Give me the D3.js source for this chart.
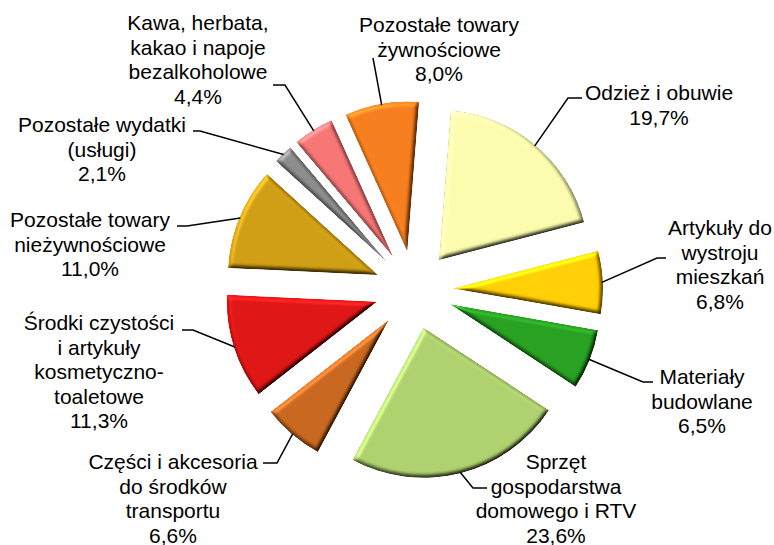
<!DOCTYPE html>
<html>
<head>
<meta charset="utf-8">
<script src="https://cdn.jsdelivr.net/npm/d3@7"></script>
<style>
  html, body { margin: 0; padding: 0; background: #fff; }
  svg { display: block; }
</style>
</head>
<body>
<div id="chart"></div>
<script>
// ---- data ----
const categories = [
  "Odzież i obuwie",
  "Artykuły do wystroju mieszkań",
  "Materiały budowlane",
  "Sprzęt gospodarstwa domowego i RTV",
  "Części i akcesoria do środków transportu",
  "Środki czystości i artykuły kosmetyczno-toaletowe",
  "Pozostałe towary nieżywnościowe",
  "Pozostałe wydatki (usługi)",
  "Kawa, herbata, kakao i napoje bezalkoholowe",
  "Pozostałe towary żywnościowe"
];
const values = [19.7, 6.8, 6.5, 23.6, 6.6, 11.3, 11.0, 2.1, 4.4, 8.0];
const labelLines = [
  ["Odzież i obuwie"],
  ["Artykuły do", "wystroju", "mieszkań"],
  ["Materiały", "budowlane"],
  ["Sprzęt", "gospodarstwa", "domowego i RTV"],
  ["Części i akcesoria", "do środków", "transportu"],
  ["Środki czystości", "i artykuły", "kosmetyczno-", "toaletowe"],
  ["Pozostałe towary", "nieżywnościowe"],
  ["Pozostałe wydatki", "(usługi)"],
  ["Kawa, herbata,", "kakao i napoje", "bezalkoholowe"],
  ["Pozostałe towary", "żywnościowe"]
];
const colors = ["#F4F5A6", "#FFC800", "#229A1C", "#A8CA68", "#C2621A",
                "#D81010", "#C9980F", "#868686", "#F07070", "#F07818"];

// ---- layout (label block centre x, first baseline y, leader elbow & end) ----
const labelLayout = [
  {x: 659, y: 100, elbow: [568, 98], end: [582, 98]},
  {x: 720, y: 235, elbow: [657, 258], end: [666, 258]},
  {x: 702, y: 384, elbow: [643, 382], end: [653, 382]},
  {x: 556, y: 469, elbow: [473, 488], end: [487, 488]},
  {x: 173, y: 469, elbow: [277, 463], end: [263, 463]},
  {x: 99,  y: 330, elbow: [193, 330], end: [182, 330]},
  {x: 90,  y: 227, elbow: [187, 226], end: [177, 226]},
  {x: 102, y: 132, elbow: [200, 131], end: [193, 131]},
  {x: 198, y: 30,  elbow: [285, 85],  end: [273, 85]},
  {x: 439, y: 32,  elbow: [373, 58],  end: [373, 58]}
];

const W = 774, H = 545;
const cx = 414, cy = 290, R = 150, explode = 39;
const rot = 4.5 * Math.PI / 180;
const fontSize = 21, lineH = 24.5;

const svg = d3.select("#chart").append("svg")
  .attr("width", W).attr("height", H)
  .attr("viewBox", `0 0 ${W} ${H}`);

// bevel filter
const defs = svg.append("defs");
const f = defs.append("filter").attr("id", "bevel")
  .attr("color-interpolation-filters", "sRGB")
  .attr("x", "-10%").attr("y", "-10%").attr("width", "120%").attr("height", "120%");
f.append("feGaussianBlur").attr("in", "SourceAlpha").attr("stdDeviation", 2.2).attr("result", "blur");
const dl = f.append("feDiffuseLighting").attr("in", "blur").attr("surfaceScale", 3)
  .attr("diffuseConstant", 1).attr("lighting-color", "#ffffff").attr("result", "diff");
dl.append("feDistantLight").attr("azimuth", 235).attr("elevation", 55);
f.append("feComposite").attr("in", "SourceGraphic").attr("in2", "diff")
  .attr("operator", "arithmetic").attr("k1", 1.22).attr("k2", 0).attr("k3", 0).attr("k4", 0)
  .attr("result", "lit");
const sl = f.append("feSpecularLighting").attr("in", "blur").attr("surfaceScale", 3)
  .attr("specularConstant", 0.35).attr("specularExponent", 18)
  .attr("lighting-color", "#ffffff").attr("result", "spec");
sl.append("feDistantLight").attr("azimuth", 235).attr("elevation", 45);
f.append("feComposite").attr("in", "spec").attr("in2", "SourceAlpha").attr("operator", "in").attr("result", "specIn");
f.append("feComposite").attr("in", "lit").attr("in2", "specIn")
  .attr("operator", "arithmetic").attr("k1", 0).attr("k2", 1).attr("k3", 0.35).attr("k4", 0)
  .attr("result", "out");
f.append("feComposite").attr("in", "out").attr("in2", "SourceAlpha").attr("operator", "in");

const pie = d3.pie().sort(null).value(d => d)
  .startAngle(rot).endAngle(rot + 2 * Math.PI);
const arcs = pie(values);
const arc = d3.arc().innerRadius(0).outerRadius(R);
const color = d3.scaleOrdinal().domain(categories).range(colors);

const fmt = v => d3.format(".1f")(v).replace(".", ",") + "%";

const g = svg.append("g").attr("transform", `translate(${cx},${cy})`);

const offset = d => {
  const m = (d.startAngle + d.endAngle) / 2;
  return [explode * Math.sin(m), -explode * Math.cos(m)];
};

g.selectAll("path.slice").data(arcs).enter().append("path")
  .attr("class", "slice")
  .attr("d", arc)
  .attr("transform", d => { const o = offset(d); return `translate(${o[0]},${o[1]})`; })
  .attr("fill", (d, i) => color(categories[i]))
  .attr("filter", "url(#bevel)");

// leader lines
const leaders = svg.append("g");
arcs.forEach((d, i) => {
  const o = offset(d);
  const m = (d.startAngle + d.endAngle) / 2;
  const rr = R - 1;
  const sx = cx + o[0] + rr * Math.sin(m), sy = cy + o[1] - rr * Math.cos(m);
  const L = labelLayout[i];
  leaders.append("polyline")
    .attr("points", [[sx, sy], L.elbow, L.end].map(p => p.join(",")).join(" "))
    .attr("fill", "none").attr("stroke", "#000").attr("stroke-width", 1.5);
});

// labels
const labels = svg.append("g")
  .attr("font-family", "'Liberation Sans', Arial, Helvetica, sans-serif")
  .attr("font-size", fontSize).attr("fill", "#000").attr("text-anchor", "middle");
labelLines.forEach((lines, i) => {
  const L = labelLayout[i];
  const t = labels.append("text").attr("x", L.x).attr("y", L.y);
  lines.concat([fmt(values[i])]).forEach((ln, k) => {
    t.append("tspan").attr("x", L.x).attr("dy", k === 0 ? 0 : lineH).text(ln);
  });
});
</script>
</body>
</html>
